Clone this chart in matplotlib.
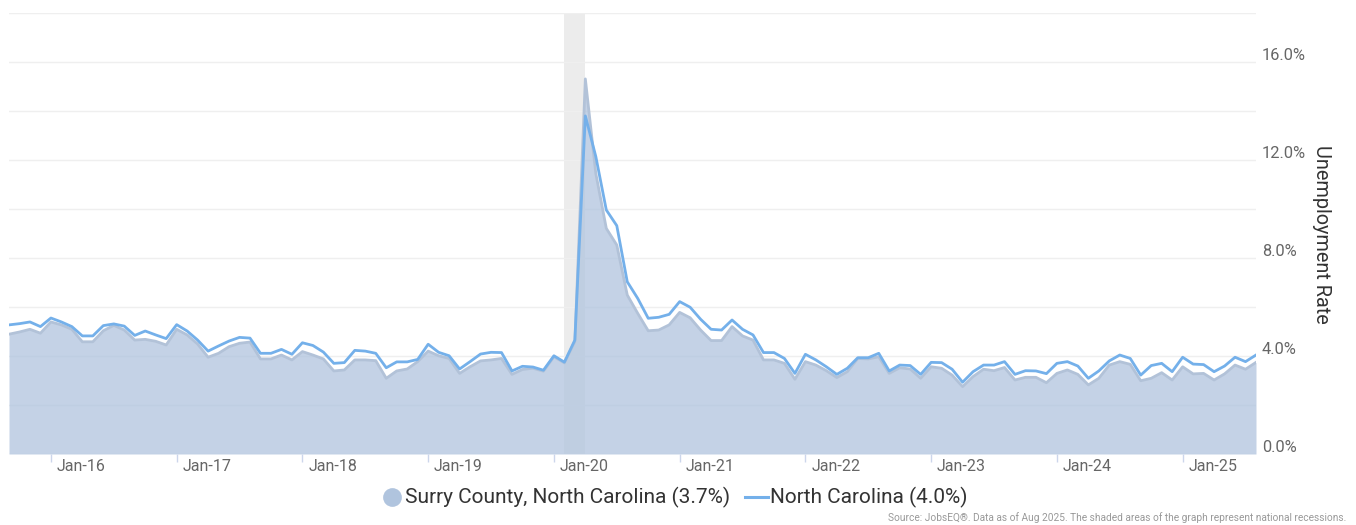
import numpy as np
import matplotlib
matplotlib.use("Agg")
import matplotlib.pyplot as plt
from matplotlib.lines import Line2D

plt.rcParams['font.family'] = ['Roboto', 'DejaVu Sans']

# Monthly data, Sep 2015 .. Aug 2025
start_year, start_month = 2015, 9
surry = [4.89, 4.98, 5.09, 4.93, 5.39, 5.27, 5.09, 4.58, 4.58, 5.03, 5.25, 5.06,
         4.65, 4.68, 4.60, 4.45, 5.09, 4.86, 4.49, 3.95, 4.11, 4.38, 4.52, 4.57,
         3.88, 3.88, 4.04, 3.84, 4.18, 4.04, 3.88, 3.39, 3.43, 3.84, 3.84, 3.81,
         3.09, 3.39, 3.47, 3.77, 4.20, 4.01, 3.90, 3.29, 3.56, 3.80, 3.84, 3.90,
         3.25, 3.45, 3.50, 3.38, 3.97, 3.72, 4.60, 15.31, 11.45, 9.21, 8.53, 6.49,
         5.74, 5.03, 5.06, 5.27, 5.78, 5.56, 5.06, 4.63, 4.63, 5.20, 4.82, 4.65,
         3.84, 3.84, 3.70, 3.05, 3.77, 3.63, 3.40, 3.12, 3.36, 3.90, 3.88, 3.97,
         3.29, 3.52, 3.47, 3.09, 3.56, 3.50, 3.22, 2.75, 3.16, 3.46, 3.40, 3.53,
         3.02, 3.13, 3.13, 2.91, 3.29, 3.43, 3.25, 2.82, 3.09, 3.63, 3.77, 3.66,
         2.99, 3.09, 3.32, 3.02, 3.56, 3.27, 3.29, 3.02, 3.27, 3.63, 3.46, 3.74]
north_carolina = [5.27, 5.32, 5.39, 5.20, 5.55, 5.39, 5.20, 4.82, 4.82, 5.24, 5.31, 5.22,
                  4.84, 5.02, 4.86, 4.71, 5.28, 5.02, 4.65, 4.20, 4.41, 4.61, 4.76, 4.73,
                  4.11, 4.11, 4.27, 4.07, 4.54, 4.43, 4.16, 3.70, 3.73, 4.23, 4.20, 4.11,
                  3.52, 3.76, 3.76, 3.86, 4.48, 4.15, 4.01, 3.47, 3.77, 4.08, 4.15, 4.14,
                  3.39, 3.58, 3.55, 3.42, 4.01, 3.75, 4.65, 13.80, 12.14, 9.96, 9.32, 7.03,
                  6.35, 5.54, 5.58, 5.70, 6.22, 5.99, 5.50, 5.09, 5.06, 5.47, 5.09, 4.86,
                  4.14, 4.14, 3.90, 3.29, 4.07, 3.84, 3.56, 3.25, 3.50, 3.93, 3.93, 4.11,
                  3.39, 3.63, 3.61, 3.25, 3.74, 3.73, 3.46, 2.93, 3.36, 3.63, 3.63, 3.77,
                  3.25, 3.40, 3.39, 3.28, 3.70, 3.77, 3.59, 3.09, 3.39, 3.80, 4.04, 3.90,
                  3.22, 3.61, 3.70, 3.36, 3.95, 3.67, 3.65, 3.36, 3.59, 3.95, 3.77, 4.04]
tick_labels = ["Jan-16", "Jan-17", "Jan-18", "Jan-19", "Jan-20",
               "Jan-21", "Jan-22", "Jan-23", "Jan-24", "Jan-25"]
y_labels = [0, 4, 8, 12, 16]
recession = ("2020-02", "2020-04")
legend_labels = ["Surry County, North Carolina (3.7%)", "North Carolina (4.0%)"]
source_text = "Source: JobsEQ®. Data as of Aug 2025. The shaded areas of the graph represent national recessions."


def month_index(ym):
    y, m = map(int, ym.split("-"))
    return (y - start_year) * 12 + (m - start_month)


x = np.arange(len(surry))
W, H = 1356, 525
fig = plt.figure(figsize=(W / 100, H / 100), dpi=100)
ax = fig.add_axes([9 / W, (H - 454) / H, 1247 / W, 441 / H])

fill_col = "#b0c4de"
edge_col = "#b2c2d8"
nc_col = "#74b0ea"

# recession band
ax.axvspan(month_index(recession[0]), month_index(recession[1]), color="#ececec", zorder=0, lw=0)

# grid
for g in np.arange(0, 18.01, 2):
    ax.axhline(g, color="#efefef", lw=1, zorder=0.5)

ax.fill_between(x, 0, surry, color=fill_col, alpha=0.75, lw=0, zorder=1)
ax.plot(x, surry, color=edge_col, lw=2, zorder=2, solid_joinstyle="round")
ax.plot(x, north_carolina, color=nc_col, lw=2.0, zorder=3, solid_joinstyle="round")

ax.set_xlim(0, len(surry) - 1)
ax.set_ylim(0, 18)
for s in ax.spines.values():
    s.set_visible(False)
ax.set_yticks([])

tick_pos = [month_index(f"20{lbl[-2:]}-01") for lbl in tick_labels]
ax.set_xticks(tick_pos)
ax.set_xticklabels([])
ax.tick_params(axis="x", length=6, width=1, color="#ccd6eb", direction="out")

trans_x = ax.get_xaxis_transform()
for p, lbl in zip(tick_pos, tick_labels):
    ax.text(p + 0.55, -0.028, lbl, transform=trans_x, ha="left", va="center",
            fontsize=11.5, color="#666666")

trans_y = ax.get_yaxis_transform()
for v in y_labels:
    ax.text(1.0048, v + 0.25, f"{v:.1f}%", transform=trans_y, ha="left", va="center",
            fontsize=11.8, color="#666666")

fig.text(1322 / W, 1 - 234 / H, "Unemployment Rate", rotation=-90, ha="center", va="center",
         fontsize=14.3, color="#333333")

# legend
ly = 1 - 497 / H
fig.add_artist(Line2D([392 / W], [ly], marker="o", markersize=13.5, color=fill_col,
                      markeredgewidth=0, transform=fig.transFigure))
fig.text(405 / W, ly, legend_labels[0], ha="left", va="center", fontsize=15, color="#333333")
fig.add_artist(Line2D([745 / W, 768 / W], [ly, ly], color=nc_col, lw=2.2,
                      transform=fig.transFigure))
fig.text(770 / W, ly, legend_labels[1], ha="left", va="center", fontsize=15, color="#333333")

fig.text(1346 / W, 1 - 518 / H, source_text, ha="right", va="center", fontsize=7.3, color="#999999")

fig.savefig("out.png", dpi=100)
